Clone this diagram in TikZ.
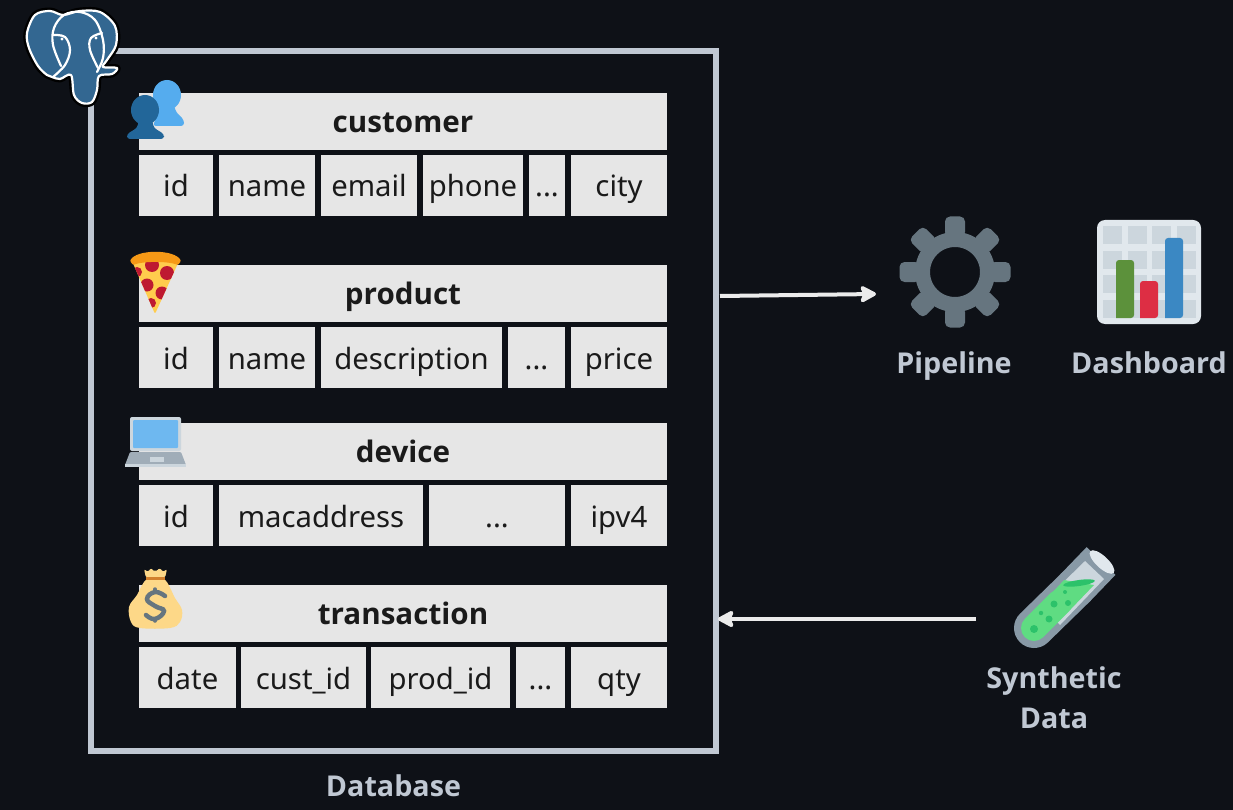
\documentclass[tikz,border=0pt]{standalone}
\usepackage{fontspec}
\setmainfont{Noto Sans}
\newfontfamily\labelfont{Open Sans}
\usepackage{tikz}
\usetikzlibrary{arrows.meta}
\definecolor{bgdark}{HTML}{0E1117}
\definecolor{framegray}{HTML}{C0C8D3}
\definecolor{cellgray}{HTML}{E6E6E6}
\definecolor{inkdark}{HTML}{1A1A1A}
\definecolor{pgblue}{HTML}{336791}
\definecolor{iconslate}{HTML}{66757F}
\definecolor{tubegray}{HTML}{8899A6}
\definecolor{palegray}{HTML}{CCD6DD}
\definecolor{paler}{HTML}{E1E8ED}
\definecolor{skyblue}{HTML}{55ACEE}
\definecolor{deepblue}{HTML}{226699}
\definecolor{liquid}{HTML}{5FDC82}
\definecolor{bubble}{HTML}{2CC26A}
\definecolor{cheese}{HTML}{FFCC4D}
\definecolor{crust}{HTML}{F4900C}
\definecolor{pepper}{HTML}{BE1931}
\definecolor{sack}{HTML}{FDD888}
\definecolor{barG}{HTML}{5C913B}
\definecolor{barR}{HTML}{DD2E44}
\definecolor{barB}{HTML}{3B88C3}
\begin{document}
\begin{tikzpicture}[
				x=1pt,y=-1pt,
				head/.style={fill=cellgray,text=inkdark,minimum width=528pt,minimum height=57pt,inner sep=0pt,text height=25pt,text depth=3pt,font=\fontsize{29.6}{34}\labelfont\bfseries},
				cell/.style={fill=cellgray,text=inkdark,minimum height=61pt,inner sep=0pt,text height=27pt,text depth=4pt,font=\fontsize{29.3}{36}\selectfont},
				lbl/.style={text=framegray,inner sep=0pt,text height=25pt,text depth=3pt,font=\fontsize{28.7}{34}\labelfont\bfseries},
				flow/.style={-{Stealth[length=19pt,width=20pt,inset=4pt,round]},white!92!black,line width=4pt}
				]
				\fill[bgdark] (0,0) rectangle (1233,810);
				\useasboundingbox (0,0) rectangle (1233,810);

				\node[draw=framegray,line width=6pt,minimum width=625pt,minimum height=700pt,inner sep=0pt] (db) at (403.5,401) {};
				\node[lbl] (dblabel) at (393.5,785) {Database};

				% customer
				\node[head] (cust) at (403,121.5) {customer};
				\node[cell,minimum width=74pt] (custa) at (176,185.5) {id};
				\node[cell,minimum width=96pt] (custb) at (267,185.5) {name};
				\node[cell,minimum width=96pt] (custc) at (369,185.5) {email};
				\node[cell,minimum width=100pt] (custd) at (473,185.5) {phone};
				\node[cell,minimum width=36pt] (custe) at (547,185.5) {...};
				\node[cell,minimum width=96pt] (custf) at (619,185.5) {city};

				% product
				\node[head] (prod) at (403,293.5) {product};
				\node[cell,minimum width=74pt] (proda) at (176,357.5) {id};
				\node[cell,minimum width=96pt] (prodb) at (267,357.5) {name};
				\node[cell,minimum width=181pt] (prodc) at (411.5,357.5) {description};
				\node[cell,minimum width=57pt] (prodd) at (536.5,357.5) {...};
				\node[cell,minimum width=96pt] (prode) at (619,357.5) {price};

				% device
				\node[head] (dev) at (403,451.5) {device};
				\node[cell,minimum width=74pt] (deva) at (176,515.5) {id};
				\node[cell,minimum width=204pt] (devb) at (321,515.5) {macaddress};
				\node[cell,minimum width=136pt] (devc) at (497,515.5) {...};
				\node[cell,minimum width=96pt] (devd) at (619,515.5) {ipv4};

				% transaction
				\node[head] (trans) at (403,613.5) {transaction};
				\node[cell,minimum width=97pt] (transa) at (187.5,677.5) {date};
				\node[cell,minimum width=125pt] (transb) at (303.5,677.5) {cust\_id};
				\node[cell,minimum width=139pt] (transc) at (440.5,677.5) {prod\_id};
				\node[cell,minimum width=49pt] (transd) at (540.5,677.5) {...};
				\node[cell,minimum width=96pt] (transe) at (619,677.5) {qty};

				\node[lbl] (pipe) at (954,362) {Pipeline};
				\node[lbl] (dash) at (1149,362) {Dashboard};
				\node[lbl] (synth) at (1054,677) {Synthetic};
				\node[lbl] (synthb) at (1054,717) {Data};

				\coordinate (dbout) at (720,296);
				\coordinate (pipein) at (876,294);
				\coordinate (tubeout) at (976,619);
				\coordinate (dbin) at (718,619);
				\draw[flow] (dbout) -- (pipein);
				\draw[flow] (tubeout) -- (dbin);

				% elephant
				\path[draw=black,line width=7pt,line join=round,fill=black] plot[smooth cycle,tension=0.55] coordinates {(27,33) (35,15) (50,11) (63,15) (80,11) (100,12) (115,26) (116,45) (107,60) (103,67) (117,68) (112,74) (99,76) (97,90) (92,102) (82,103) (74,95) (71,75) (60,79) (52,77) (47,75) (38,66) (29,48)};
				\path[draw=white,line width=2.2pt,line join=round,fill=pgblue] plot[smooth cycle,tension=0.55] coordinates {(27,33) (35,15) (50,11) (63,15) (80,11) (100,12) (115,26) (116,45) (107,60) (103,67) (117,68) (112,74) (99,76) (97,90) (92,102) (82,103) (74,95) (71,75) (60,79) (52,77) (47,75) (38,66) (29,48)};
				\draw[white,line width=2.2pt,line cap=round] plot[smooth,tension=0.6] coordinates {(61,66) (53,45) (54,28) (64,15) (80,12) (95,20) (103,40) (103,58) (97,72)};
				\draw[white,line width=2.2pt,line cap=round] plot[smooth,tension=0.6] coordinates {(53,35) (65,37) (70,50) (65,65) (53,77)};
				\draw[white,line width=2.2pt,line cap=round] plot[smooth,tension=0.6] coordinates {(102,33) (91,38) (90,50) (98,68)};
				\fill[white] (62,39) circle [radius=1.6];
				\fill[white] (96,38) circle [radius=1.6];

				% customers
				\fill[skyblue] (167,95) ellipse [x radius=14,y radius=15];
				\fill[skyblue,rounded corners=3pt] (160,105) -- (174,105) -- (176,112) -- (184,120) -- (184,126) -- (153,126) -- (158,112) -- cycle;
				\fill[deepblue] (145,110) ellipse [x radius=14,y radius=15];
				\fill[deepblue,rounded corners=3pt] (139,120) -- (152,120) -- (154,128) -- (164,134) -- (164,139) -- (127,139) -- (127,134) -- (137,128) -- cycle;

				% pizza
				\fill[cheese,rounded corners=1.5pt] (132,261) -- (179,261) -- (155,314) -- cycle;
				\begin{scope}
					\clip (132,261) -- (179,261) -- (155,314) -- cycle;
					\fill[pepper] (152,265) circle [radius=7];
					\fill[pepper] (167,273) circle [radius=7];
					\fill[pepper] (147,285) circle [radius=6.5];
					\fill[pepper] (162,293) circle [radius=6.5];
					\fill[pepper] (151,303) circle [radius=5];
					\fill[pepper] (137,272) circle [radius=5];
				\end{scope}
				\fill[crust!85!cheese,rounded corners=1pt] (130,261) .. controls (136,249) and (175,249) .. (181,261) -- (178,265) .. controls (168,261) and (143,261) .. (133,265) -- cycle;

				% laptop
				\fill[palegray,rounded corners=2pt] (130,417) rectangle (181,451);
				\fill[skyblue!85!white,rounded corners=1pt] (133,420) rectangle (178,448);
				\fill[tubegray!80!white,rounded corners=1pt] (130,452) -- (181,452) -- (186,465) -- (125,465) -- cycle;
				\fill[palegray] (125,464) rectangle (186,466.5);
				\fill[palegray] (150,457) rectangle (164,462);

				% money bag
				\fill[sack,rounded corners=2pt] (144,569) -- (148,572) -- (151,568) -- (155,572) -- (160,568) -- (163,572) -- (167,569) -- (165,578) -- (146,578) -- cycle;
				\fill[sack] plot[smooth cycle,tension=0.6] coordinates {(147,579) (164,579) (175,598) (182,610) (180,622) (170,628) (140,628) (131,622) (129,607) (137,595)};
				\fill[brown!70!orange] (146,576.5) rectangle (165,579.5);
				\draw[iconslate,line width=4.5pt,line cap=round] plot[smooth,tension=0.8] coordinates {(165,596) (155,592) (147,599) (155,606) (164,611) (155,619) (146,615)};
				\draw[iconslate,line width=3.5pt,line cap=round] (155,589) -- (155,592) (155,619) -- (155,621);

				% gear
				\foreach \a in {0,45,...,315}
					\fill[iconslate,rounded corners=5pt,rotate around={\a:(955,272)}] (990,262) rectangle (1010.5,282);
				\draw[iconslate,line width=15pt] (955,272) circle [radius=32.5];

				% chart
				\fill[paler,rounded corners=8pt] (1097,220) rectangle (1201,324);
				\foreach \cx in {1103,1127.5,1152,1176.5}
					\foreach \cy in {226,251,275,300}
						\fill[palegray] (\cx,\cy) rectangle ++(19,18);
				\fill[barG,rounded corners=3pt] (1116,318) -- (1116,260) -- (1134,260) -- (1134,318) [sharp corners] -- cycle;
				\fill[barR,rounded corners=3pt] (1140,318) -- (1140,281) -- (1158,281) -- (1158,318) [sharp corners] -- cycle;
				\fill[barB,rounded corners=3pt] (1165,318) -- (1165,238) -- (1183,238) -- (1183,318) [sharp corners] -- cycle;

				% tube
				\draw[tubegray,line width=40pt,line cap=round] (1034,628) -- (1075,588);
				\draw[tubegray,line width=40pt] (1075,588) -- (1101,561);
				\fill[palegray] (1085,561) -- (1104,579) -- (1060,625) -- (1040,605) -- cycle;
				\draw[liquid,line width=26pt,line cap=round] (1034,628) -- (1060,602);
				\fill[liquid] (1064,580) -- (1094,585) -- (1070,610) -- (1050,595) -- cycle;
				\fill[bubble,rotate around={8:(1079,583)}] (1079,583) ellipse [x radius=16,y radius=3];
				\fill[bubble] (1034,629) circle [radius=4];
				\fill[bubble] (1049,619) circle [radius=3.5];
				\fill[bubble] (1041,613) circle [radius=2.2];
				\fill[bubble] (1054,604) circle [radius=3.5];
				\fill[bubble] (1068,603) circle [radius=3];
				\fill[bubble] (1065,592) circle [radius=2];
				\fill[paler,rotate around={-43:(1102,562)}] (1102,562) ellipse [x radius=16,y radius=6];
			\end{tikzpicture}
\end{document}
